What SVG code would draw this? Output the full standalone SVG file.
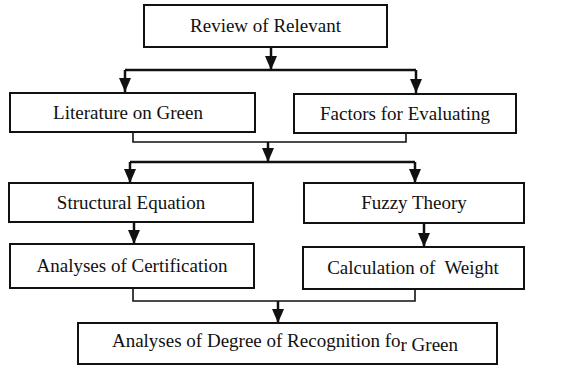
<svg xmlns="http://www.w3.org/2000/svg" width="581" height="365" viewBox="0 0 581 365">
<defs>
<style>
.box{fill:#fff;stroke:#111;stroke-width:2}
text{font-family:'Liberation Serif','Times New Roman',Times,serif;font-size:19px;fill:#111;text-anchor:middle}
.c{fill:none;stroke:#111;stroke-width:2.5}
.j{fill:none;stroke:#111;stroke-width:1.6}
.ah{fill:#111}
</style>
</defs>
<g id="connectors">
<path class="c" d="M271,47 V70"/>
<path class="c" d="M125,70 H416"/>
<path class="c" d="M125,70 V92"/>
<path class="c" d="M416,70 V93"/>
<path class="j" d="M133,132 V142 H406 V133"/>
<path class="c" d="M268,142 V162"/>
<path class="c" d="M130,162 H415"/>
<path class="c" d="M130,162 V183"/>
<path class="c" d="M415,162 V183"/>
<path class="c" d="M134,222 V244"/>
<path class="c" d="M424,223 V247"/>
<path class="j" d="M133,288 V301 H415 V289"/>
<path class="c" d="M278,301 V323"/>
<path class="ah" d="M265,56 H277 L271,70 Z"/>
<path class="ah" d="M119,78 H131 L125,92 Z"/>
<path class="ah" d="M410,79 H422 L416,93 Z"/>
<path class="ah" d="M262,148 H274 L268,162 Z"/>
<path class="ah" d="M124,169 H136 L130,183 Z"/>
<path class="ah" d="M409,169 H421 L415,183 Z"/>
<path class="ah" d="M128,230 H140 L134,244 Z"/>
<path class="ah" d="M418,233 H430 L424,247 Z"/>
<path class="ah" d="M272,309 H284 L278,323 Z"/>
</g>
<g id="n1"><rect class="box" x="144" y="5" width="243" height="42"/><text x="265.5" y="32">Review of Relevant</text></g>
<g id="n2"><rect class="box" x="10" y="93" width="245" height="39"/><text x="128" y="119">Literature on Green</text></g>
<g id="n3"><rect class="box" x="294" y="94" width="222" height="39"/><text x="405" y="120">Factors for Evaluating</text></g>
<g id="n4"><rect class="box" x="9" y="183" width="244" height="39"/><text x="131" y="209">Structural Equation</text></g>
<g id="n5"><rect class="box" x="304" y="183" width="220" height="40"/><text x="414" y="209">Fuzzy Theory</text></g>
<g id="n6"><rect class="box" x="10" y="244" width="244" height="44"/><text x="132" y="272">Analyses of Certification</text></g>
<g id="n7"><rect class="box" x="303" y="247" width="221" height="42"/><text x="413" y="274" xml:space="preserve" style="white-space:pre">Calculation of  Weight</text></g>
<g id="n8"><rect class="box" x="78" y="323" width="419" height="41"/><text x="285" y="347">Analyses of Degree of Recognition fo<tspan dy="4">r Green</tspan></text></g>
</svg>
